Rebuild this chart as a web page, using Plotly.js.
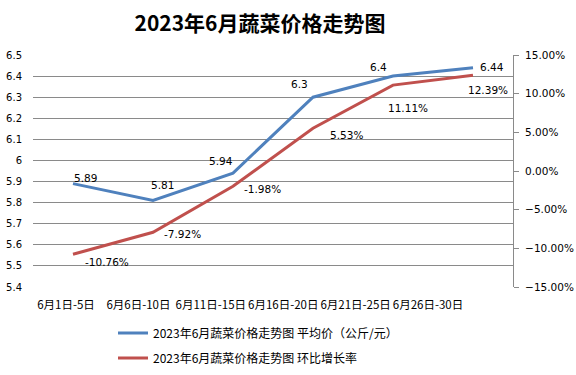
<!DOCTYPE html>
<html>
<head>
<meta charset="utf-8">
<script src="https://cdn.plot.ly/plotly-3.0.1.min.js"></script>
<style>html,body{margin:0;padding:0;background:#fff;}#chart{width:576px;height:375px;}</style>
</head>
<body>
<div id="chart"></div>
<script>
const categories = ['6月1日-5日','6月6日-10日','6月11日-15日','6月16日-20日','6月21日-25日','6月26日-30日'];
const avgPrice = [5.89, 5.81, 5.94, 6.3, 6.4, 6.44];
const growthRate = [-10.76, -7.92, -1.98, 5.53, 11.11, 12.39];
const seriesNames = ['2023年6月蔬菜价格走势图 平均价（公斤/元）', '2023年6月蔬菜价格走势图 环比增长率'];
const chartTitle = '2023年6月蔬菜价格走势图';

// label placement offsets (pixels, screen x right / y down) — styling only
const priceLabelOffset = [[12,-6],[9,-16],[-12,-12],[-14,-13],[-15,-9],[19,-1]];
const rateLabelOffset  = [[34,8],[29,2],[29,3],[33,7],[15,23],[15,15]];

const FONT = 'DejaVu Sans, Noto Sans CJK SC, sans-serif';
const CJK = 'Noto Sans CJK SC, DejaVu Sans, sans-serif';

const trace1 = {
  x: categories, y: avgPrice, name: seriesNames[0], type: 'scatter', mode: 'lines',
  line: {color: '#4F81BD', width: 3}, legend: 'legend'
};
const trace2 = {
  x: categories, y: growthRate.map(v => v / 100), name: seriesNames[1], type: 'scatter', mode: 'lines',
  yaxis: 'y2', line: {color: '#C0504D', width: 3}, legend: 'legend2'
};
// invisible carrier for the category tick labels (Excel packs them left of the points)
const labelTrace = {
  x: categories, y: avgPrice, xaxis: 'x2', type: 'scatter', mode: 'none',
  showlegend: false, hoverinfo: 'skip'
};

const annotations = [];
categories.forEach((c, i) => {
  annotations.push({x: c, y: avgPrice[i], xref: 'x', yref: 'y', text: String(avgPrice[i]),
    showarrow: false, xanchor: 'center', yanchor: 'middle',
    xshift: priceLabelOffset[i][0], yshift: -priceLabelOffset[i][1],
    font: {family: FONT, size: 10.5, color: '#000'}});
  annotations.push({x: c, y: growthRate[i] / 100, xref: 'x', yref: 'y2', text: growthRate[i].toFixed(2) + '%',
    showarrow: false, xanchor: 'center', yanchor: 'middle',
    xshift: rateLabelOffset[i][0], yshift: -rateLabelOffset[i][1],
    font: {family: FONT, size: 10.5, color: '#000'}});
});

const layout = {
  width: 576, height: 375,
  margin: {l: 33, r: 63, t: 55, b: 88, autoexpand: false},
  paper_bgcolor: '#fff', plot_bgcolor: '#fff',
  title: {text: '<b>' + chartTitle + '</b>', font: {family: CJK, size: 21, color: '#000'},
          x: 260/576, xanchor: 'center', y: 1 - 24/375, yanchor: 'middle', yref: 'container'},
  xaxis: {type: 'category', range: [-0.5, 5.5], showgrid: false, zeroline: false, showline: false,
          ticks: '', showticklabels: false},
  xaxis2: {type: 'category', overlaying: 'x', side: 'bottom', range: [-0.456, 6.174], showgrid: false,
           zeroline: false, showline: false, ticks: '', ticklabelstandoff: 9, tickangle: 0,
           tickfont: {family: CJK, size: 11.5, color: '#000'}},
  yaxis: {range: [5.4, 6.5], dtick: 0.1, tick0: 5.4, showgrid: true, gridcolor: '#8a8a8a', gridwidth: 1,
          zeroline: false, showline: false, ticks: '', ticklabelstandoff: 10,
          tickfont: {family: FONT, size: 10, color: '#000'}},
  yaxis2: {overlaying: 'y', side: 'right', range: [-0.15, 0.15], dtick: 0.05, tick0: -0.15, tickformat: '.2%',
           showgrid: false, zeroline: false, showline: true, linecolor: '#8a8a8a', linewidth: 1,
           ticks: 'outside', ticklen: 5, tickcolor: '#8a8a8a', ticklabelstandoff: 4,
           tickfont: {family: FONT, size: 10.5, color: '#000'}},
  annotations: annotations,
  showlegend: true,
  legend: {x: (113-33)/480, xanchor: 'left', y: (287-333)/232, yanchor: 'middle', bgcolor: 'rgba(0,0,0,0)',
           font: {family: CJK, size: 12, color: '#000'}},
  legend2: {x: (113-33)/480, xanchor: 'left', y: (287-358)/232, yanchor: 'middle', bgcolor: 'rgba(0,0,0,0)',
           font: {family: CJK, size: 12, color: '#000'}}
};

Plotly.newPlot('chart', [trace1, trace2, labelTrace], layout, {displayModeBar: false, staticPlot: true});
</script>
</body>
</html>
